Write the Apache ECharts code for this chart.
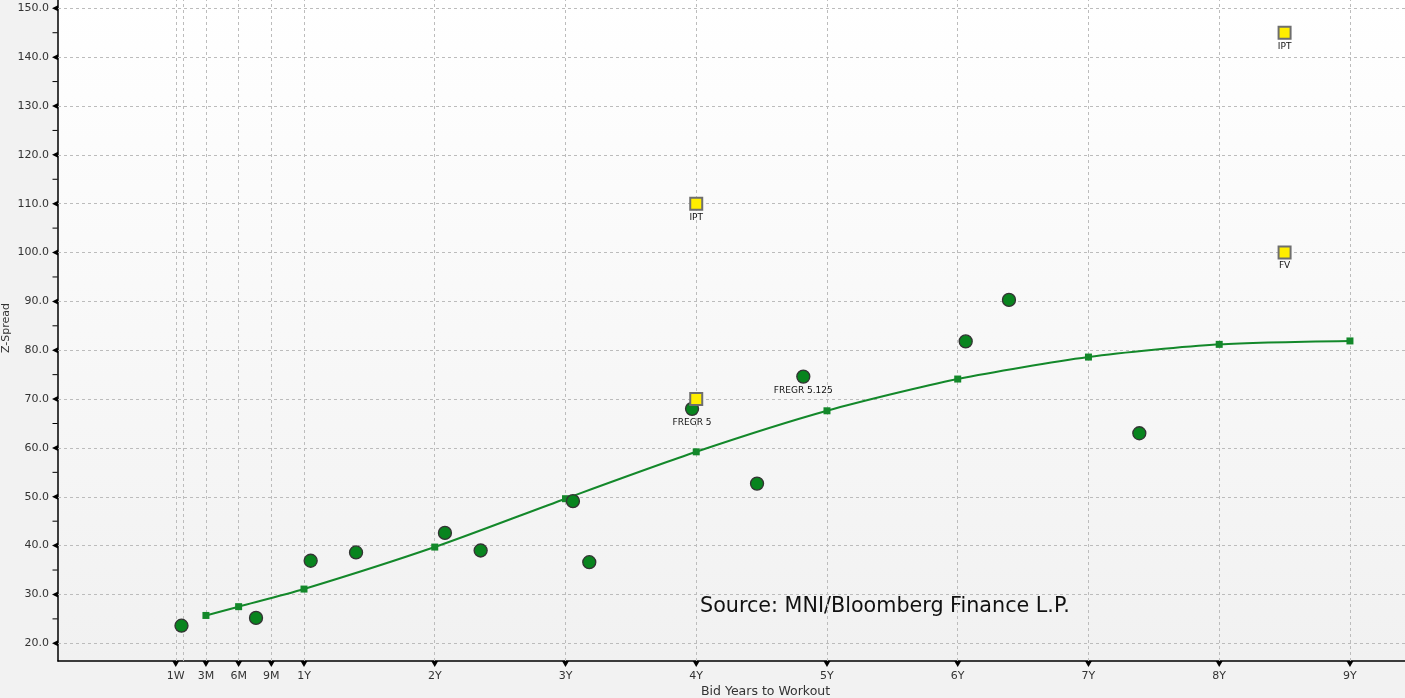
<!DOCTYPE html>
<html>
<head>
<meta charset="utf-8">
<script src="https://cdn.jsdelivr.net/npm/echarts@6/dist/echarts.min.js"></script>
<style>
html,body{margin:0;padding:0;background:#f2f2f2;}
#c{width:1405px;height:698px;}
</style>
</head>
<body>
<div id="c"></div>
<script>
// ---- data ----
const xTickValues = [7/365, 0.25, 0.5, 0.75, 1, 2, 3, 4, 5, 6, 7, 8, 9];
const xTickLabels = ['1W', '3M', '6M', '9M', '1Y', '2Y', '3Y', '4Y', '5Y', '6Y', '7Y', '8Y', '9Y'];
const xGridValues = [7/365, 1/12, 0.25, 0.5, 0.75, 1, 2, 3, 4, 5, 6, 7, 8, 9];
const yTickValues = [20, 30, 40, 50, 60, 70, 80, 90, 100, 110, 120, 130, 140, 150];
const yMinorValues = [25, 35, 45, 55, 65, 75, 85, 95, 105, 115, 125, 135, 145];

const curveX = [0.25, 0.5, 1, 2, 3, 4, 5, 6, 7, 8, 9];
const curveY = [25.7, 27.5, 31.1, 39.7, 49.6, 59.2, 67.6, 74.1, 78.6, 81.2, 81.9];

const bondX = [0.063, 0.633, 1.051, 1.398, 2.078, 2.351, 3.057, 3.182, 3.968, 4.819, 4.465, 6.061, 6.392, 7.389];
const bondY = [23.6, 25.2, 36.9, 38.6, 42.6, 39.0, 49.1, 36.6, 68.0, 74.6, 52.7, 81.8, 90.3, 63.0];
const bondLabels = ['', '', '', '', '', '', '', '', 'FREGR 5', 'FREGR 5.125', '', '', '', ''];

const newX = [4.0, 4.0, 8.5, 8.5];
const newY = [110.0, 70.0, 145.0, 100.0];
const newLabels = ['IPT', '', 'IPT', 'FV'];

const xMin = -0.8815, xMax = 9.421;
const yMin = 16.375, yMax = 151.7;

const FONT = 'DejaVu Sans';

function xLabel(v) {
  let best = 0, d = Infinity;
  xTickValues.forEach((t, i) => { const dd = Math.abs(t - v); if (dd < d) { d = dd; best = i; } });
  return xTickLabels[best];
}

const chart = echarts.init(document.getElementById('c'), null, {renderer: 'canvas'});
const option = {
  animation: false,
  backgroundColor: '#f2f2f2',
  grid: {
    left: 58, right: 0, top: 0, bottom: 37,
    show: true, borderWidth: 0,
    backgroundColor: new echarts.graphic.LinearGradient(0, 0, 0, 1, [
      {offset: 0, color: '#ffffff'}, {offset: 1, color: '#f1f1f1'}
    ])
  },
  xAxis: {
    type: 'value', min: xMin, max: xMax,
    axisLine: {show: true, onZero: false, lineStyle: {color: '#000', width: 1.5}},
    axisTick: {show: false},
    splitLine: {show: false},
    axisLabel: {
      customValues: xTickValues, formatter: xLabel,
      color: '#333', fontFamily: FONT, fontSize: 11, margin: 10
    }
  },
  yAxis: {
    type: 'value', min: yMin, max: yMax,
    axisLine: {show: true, onZero: false, lineStyle: {color: '#000', width: 1.5}},
    axisTick: {show: false},
    splitLine: {show: false},
    axisLabel: {
      customValues: yTickValues, formatter: v => v.toFixed(1),
      color: '#333', fontFamily: FONT, fontSize: 11, margin: 9
    }
  },
  series: [
    {
      type: 'scatter', data: [], z: 1, silent: true,
      markLine: {
        z: 1, silent: true, symbol: 'none', label: {show: false},
        lineStyle: {color: '#bcbcbc', type: [3, 3], width: 1},
        data: xGridValues.map(v => ({xAxis: v})).concat(yTickValues.map(v => ({yAxis: v})))
      }
    },
    {
      type: 'line', z: 3,
      data: curveX.map((x, i) => [x, curveY[i]]),
      smooth: 0.25,
      symbol: 'rect', symbolSize: 7, showSymbol: true,
      lineStyle: {color: '#13882a', width: 2},
      itemStyle: {color: '#13882a', borderWidth: 0, opacity: 1}
    },
    {
      type: 'scatter', z: 4,
      data: bondX.map((x, i) => ({value: [x, bondY[i]], name: bondLabels[i]})),
      symbol: 'circle', symbolSize: 13,
      itemStyle: {color: '#08841e', borderColor: '#333', borderWidth: 1.3, opacity: 1},
      label: {
        show: true, position: 'bottom', distance: 2,
        formatter: p => p.name, color: '#111', fontFamily: FONT, fontSize: 9
      }
    },
    {
      type: 'scatter', z: 5,
      data: newX.map((x, i) => ({value: [x, newY[i]], name: newLabels[i]})),
      symbol: 'rect', symbolSize: 12,
      itemStyle: {color: '#ffee00', borderColor: '#6e6e6e', borderWidth: 2, opacity: 1},
      label: {
        show: true, position: 'bottom', distance: 2,
        formatter: p => p.name, color: '#111', fontFamily: FONT, fontSize: 9
      }
    },
    {
      // x axis tick triangles
      type: 'scatter', z: 6, silent: true, clip: false,
      data: xTickValues.map(v => [v, yMin]),
      symbol: 'triangle', symbolSize: [7, 6], symbolRotate: 180, symbolOffset: [0, 3],
      itemStyle: {color: '#000', opacity: 1}
    },
    {
      // y axis major tick triangles
      type: 'scatter', z: 6, silent: true, clip: false,
      data: yTickValues.map(v => [xMin, v]),
      symbol: 'triangle', symbolSize: [6, 6], symbolRotate: 90, symbolOffset: [-3, 0],
      itemStyle: {color: '#000', opacity: 1}
    },
    {
      // y axis minor ticks
      type: 'scatter', z: 6, silent: true, clip: false,
      data: yMinorValues.map(v => [xMin, v]),
      symbol: 'rect', symbolSize: [5, 1], symbolOffset: [-3, 0],
      itemStyle: {color: '#000', opacity: 1}
    }
  ],
  graphic: [
    {
      type: 'text', left: 700, top: 596, silent: true,
      style: {text: 'Source: MNI/Bloomberg Finance L.P.', fill: '#111', font: '20.7px "DejaVu Sans"'}
    },
    {
      type: 'text', left: 701, top: 685, silent: true,
      style: {text: 'Bid Years to Workout', fill: '#333', font: '12.5px "DejaVu Sans"'}
    },
    {
      type: 'text', x: 6, y: 328, rotation: Math.PI / 2, silent: true,
      style: {text: 'Z-Spread', fill: '#333', font: '11px "DejaVu Sans"', align: 'center', verticalAlign: 'middle'}
    }
  ]
};
chart.setOption(option);
</script>
</body>
</html>
